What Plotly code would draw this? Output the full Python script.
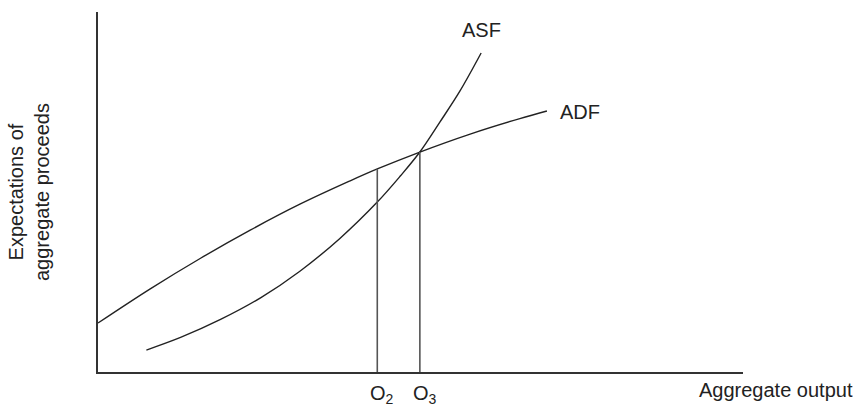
import plotly.graph_objects as go

# Conceptual curves (x: aggregate output, y: expected proceeds), 0-100 scale
adf_x = [0.0, 8.1, 15.9, 23.6, 31.3, 39.1, 43.3, 49.9, 57.7, 65.4, 69.6]
adf_y = [13.6, 23.1, 31.6, 39.4, 46.6, 53.1, 56.4, 61.1, 66.1, 70.4, 72.5]

asf_x = [7.5, 12.8, 19.0, 25.2, 31.3, 37.5, 43.3, 46.9, 49.9, 53.0, 56.1, 59.4]
asf_y = [6.1, 9.6, 14.6, 20.6, 28.0, 37.1, 47.2, 54.5, 61.1, 69.4, 78.0, 88.6]

o_x = [43.3, 49.9]          # O2, O3
o_top = [56.4, 61.1]        # heights reached by the drop lines (ADF)
o_labels = ["O<sub>2</sub>", "O<sub>3</sub>"]

FONT = "Liberation Sans, Arial, Helvetica, sans-serif"
TXT = "#222222"

fig = go.Figure()
fig.add_trace(go.Scatter(x=adf_x, y=adf_y, mode="lines", line=dict(color="#222222", width=1.4, shape="spline"),
                         hoverinfo="skip", showlegend=False))
fig.add_trace(go.Scatter(x=asf_x, y=asf_y, mode="lines", line=dict(color="#222222", width=1.4, shape="spline"),
                         hoverinfo="skip", showlegend=False))
for xv, yt in zip(o_x, o_top):
    fig.add_trace(go.Scatter(x=[xv, xv], y=[0, yt], mode="lines", line=dict(color="#555555", width=1.6),
                             hoverinfo="skip", showlegend=False))

ann = []
ann.append(dict(x=asf_x[-1], y=95, text="ASF", showarrow=False, xanchor="center", yanchor="middle",
                font=dict(family=FONT, size=20, color=TXT)))
ann.append(dict(x=71.3, y=72.2, text="ADF", showarrow=False, xanchor="left", yanchor="middle",
                font=dict(family=FONT, size=20, color=TXT)))
for xv, lab in zip(o_x, o_labels):
    ann.append(dict(x=xv, yref="paper", y=0, yshift=-22, text=lab, showarrow=False, xanchor="left",
                    yanchor="middle", xshift=-9, font=dict(family=FONT, size=20, color=TXT)))
ann.append(dict(xref="paper", yref="paper", x=1, y=0, xshift=112, yshift=-18, text="Aggregate output",
                showarrow=False, xanchor="right", yanchor="middle",
                font=dict(family=FONT, size=20, color=TXT)))
ann.append(dict(xref="paper", yref="paper", x=0, y=0.5, xshift=-69, text="Expectations of<br>aggregate proceeds",
                textangle=-90, showarrow=False, xanchor="center", yanchor="middle",
                font=dict(family=FONT, size=20, color=TXT)))

fig.update_layout(
    width=858, height=406,
    margin=dict(l=98, r=115, t=12, b=34),
    paper_bgcolor="white", plot_bgcolor="white",
    xaxis=dict(range=[0, 100], showgrid=False, zeroline=False, showticklabels=False, ticks="",
               showline=True, linecolor="#333333", linewidth=2, fixedrange=True),
    yaxis=dict(range=[0, 100], showgrid=False, zeroline=False, showticklabels=False, ticks="",
               showline=True, linecolor="#333333", linewidth=2, fixedrange=True),
    annotations=ann,
)

fig.write_html("out.html", config={"displayModeBar": False, "staticPlot": True},
               post_script="document.body.style.margin='0';document.body.style.overflow='hidden';")
